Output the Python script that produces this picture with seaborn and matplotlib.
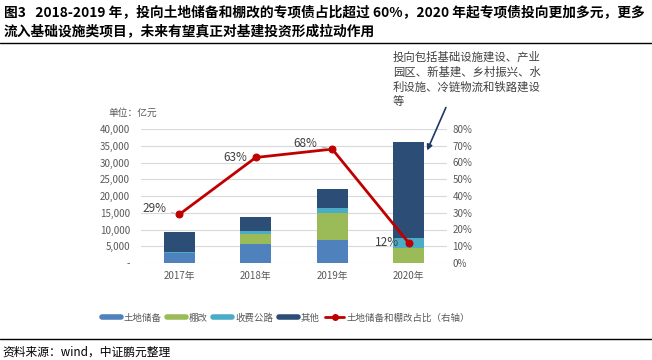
import matplotlib
matplotlib.use("Agg")
import matplotlib.pyplot as plt
import matplotlib.ticker as ticker
from matplotlib.lines import Line2D
import numpy as np
import pandas as pd
import seaborn as sns

# ── 数据 ──────────────────────────────────────────────────────────────────────
years = ["2017年", "2018年", "2019年", "2020年"]
land = [2900, 5600, 6900, 0]          # 土地储备
shanty = [0, 3150, 7900, 4400]        # 棚改
toll = [400, 700, 1500, 2950]         # 收费公路
other = [6050, 4400, 5700, 28650]     # 其他
ratio = [0.29, 0.63, 0.68, 0.12]      # 土地储备和棚改占比（右轴）
ratio_labels = ["29%", "63%", "68%", "12%"]

series_names = ["土地储备", "棚改", "收费公路", "其他"]
colors = ["#4F81BD", "#9BBB59", "#4BACC6", "#2C4D75"]
line_color = "#C00000"

# ── 样式 ──────────────────────────────────────────────────────────────────────
sns.set_theme(style="white")
plt.rcParams["font.family"] = ["Noto Sans CJK SC", "DejaVu Sans"]
plt.rcParams["axes.unicode_minus"] = False

fig = plt.figure(figsize=(6.52, 3.6), dpi=100)
ax = fig.add_axes([141 / 652, 1 - 263 / 360, 306 / 652, 134 / 360])

# 堆叠柱：按累计值从高到低叠画
df = pd.DataFrame({"year": years, "a": land, "b": shanty, "c": toll, "d": other})
layers = [df["a"], df["b"], df["c"], df["d"]]
cum = np.cumsum(np.array(layers), axis=0)
for i in range(3, -1, -1):
    sns.barplot(x=df["year"], y=cum[i], ax=ax, color=colors[i], width=0.41,
                saturation=1, edgecolor="none")

ax.set_ylim(0, 40000)
ax.set_xlim(-0.5, 3.5)
ax.yaxis.set_major_locator(ticker.MultipleLocator(5000))
ax.yaxis.set_major_formatter(ticker.FuncFormatter(lambda v, _: "-" if v == 0 else f"{v:,.0f}"))
ax.grid(axis="y", color="#D9D9D9", linewidth=0.8)
ax.set_axisbelow(True)
for s in ax.spines.values():
    s.set_visible(False)
ax.set_xlabel("")
ax.set_ylabel("")
ax.tick_params(axis="both", length=0, labelsize=7, colors="#595959")
ax.tick_params(axis="y", pad=8)
ax.tick_params(axis="x", pad=6)

# 右轴占比折线
ax2 = ax.twinx()
x = np.arange(len(years))
sns.lineplot(x=x, y=ratio, ax=ax2, color=line_color, linewidth=2,
             marker="o", markersize=5, markeredgecolor=line_color)
ax2.set_ylim(0, 0.8)
ax2.yaxis.set_major_locator(ticker.MultipleLocator(0.1))
ax2.yaxis.set_major_formatter(ticker.PercentFormatter(1.0, decimals=0))
for s in ax2.spines.values():
    s.set_visible(False)
ax2.tick_params(axis="y", length=0, labelsize=7, colors="#595959", pad=4)
ax2.grid(False)

offsets = [(-9, 4), (-6, 0), (-11, 4), (-7, 0)]
for i, (lab, off) in enumerate(zip(ratio_labels, offsets)):
    arrow = dict(arrowstyle="-", color="#A6A6A6", lw=0.6, shrinkA=1, shrinkB=3) if i in (0, 2) else None
    ax2.annotate(lab, xy=(x[i], ratio[i]), xytext=off, textcoords="offset points",
                 ha="right", va="center", fontsize=8.5,
                 color="#404040", arrowprops=arrow)

# 单位
fig.text(108 / 652, 1 - 113 / 360, "单位：亿元", fontsize=7, color="#595959",
         ha="left", va="center")

# 右上注释与箭头
fig.text(393 / 652, 1 - 51 / 360,
         "投向包括基础设施建设、产业\n园区、新基建、乡村振兴、水\n利设施、冷链物流和铁路建设\n等",
         fontsize=8.2, color="#404040", ha="left", va="top", linespacing=1.42)
ax.annotate("", xy=(426 / 652, 1 - 153 / 360), xytext=(447 / 652, 1 - 105 / 360),
            xycoords="figure fraction", textcoords="figure fraction",
            arrowprops=dict(arrowstyle="-|>", color="#1F3864", lw=1.2, mutation_scale=8))

# 标题
fig.text(4 / 652, 1 - 12 / 360,
         "图3   2018-2019 年，投向土地储备和棚改的专项债占比超过 60%，2020 年起专项债投向更加多元，更多",
         fontsize=9.9, fontweight="bold", color="#000000", ha="left", va="center")
fig.text(4 / 652, 1 - 32 / 360,
         "流入基础设施类项目，未来有望真正对基建投资形成拉动作用",
         fontsize=9.9, fontweight="bold", color="#000000", ha="left", va="center")
fig.add_artist(Line2D([0, 1], [1 - 43 / 360, 1 - 43 / 360], color="black", lw=1))
fig.add_artist(Line2D([0, 1], [1 - 339 / 360, 1 - 339 / 360], color="black", lw=1))

# 图例
handles = [Line2D([0], [0], color=c, lw=4) for c in colors]
handles.append(Line2D([0], [0], color=line_color, lw=2, marker="o", markersize=4))
labels = series_names + ["土地储备和棚改占比（右轴）"]
fig.legend(handles, labels, loc="center", bbox_to_anchor=(286 / 652, 1 - 318 / 360),
           ncol=5, frameon=False, fontsize=6.8, handlelength=2.0, handletextpad=0.3,
           columnspacing=0.6, labelcolor="#595959")

# 资料来源
fig.text(2 / 652, 1 - 352 / 360, "资料来源：wind，中证鹏元整理", fontsize=8.5,
         color="#000000", ha="left", va="center")

fig.savefig("out.png", dpi=100)
